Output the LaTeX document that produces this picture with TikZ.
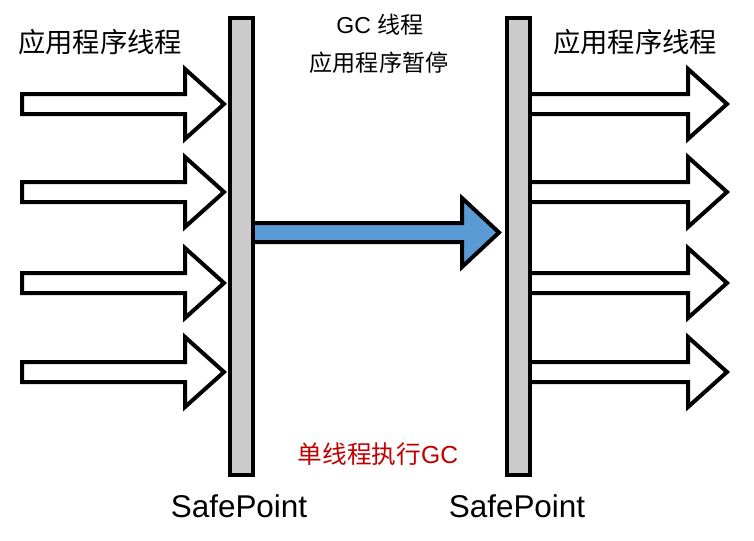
\documentclass[tikz,border=0pt]{standalone}
\usepackage{fontspec}
\setmainfont{Liberation Sans}
\newfontfamily\cjk{Noto Sans CJK SC}
\definecolor{bargray}{HTML}{CCCCCC}
\definecolor{gcblue}{HTML}{5B9BD5}
\definecolor{gcred}{HTML}{C00000}
\newcommand\myLarrow[2]{%
  \draw[thick arr] (22,#1-10) -- (185,#1-10) -- (185,#1-35) -- (224,#1) -- (185,#1+35) -- (185,#1+10) -- (22,#1+10) -- cycle;
  \coordinate (#2) at (224,#1);}
\newcommand\myRarrow[2]{%
  \draw[thick arr] (520,#1-10) -- (688,#1-10) -- (688,#1-35) -- (727,#1) -- (688,#1+35) -- (688,#1+10) -- (520,#1+10) -- cycle;
  \coordinate (#2) at (727,#1);}
\tikzset{
  thick arr/.style={draw=black, fill=white, line width=3pt, miter limit=10},
  barbox/.style={draw=black, fill=bargray, line width=3pt},
  title/.style={font=\fontsize{20.5}{24}\selectfont\cjk, inner sep=0pt},
  mid/.style={font=\fontsize{17.3}{20}\selectfont, inner sep=0pt},
  sp/.style={font=\fontsize{23.6}{27}\selectfont, inner sep=0pt},
}
\begin{document}
\begin{tikzpicture}[x=0.75pt,y=-0.75pt]
\useasboundingbox (0,0) rectangle (754,540);
% left arrows
\myLarrow{104}{la1}
\myLarrow{192}{la2}
\myLarrow{283}{la3}
\myLarrow{372}{la4}
% right arrows
\myRarrow{104}{ra1}
\myRarrow{192}{ra2}
\myRarrow{283}{ra3}
\myRarrow{372}{ra4}
% blue arrow
\draw[line width=3pt, draw=black, fill=gcblue, miter limit=10] (245,223) -- (462,223) -- (462,198) -- (499,232.5) -- (462,267) -- (462,242) -- (245,242) -- cycle;
% bars
\draw[barbox] (230,18) rectangle (253,475);
\draw[barbox] (507,18) rectangle (530,475);
\coordinate (sp1) at (241.5,246);
\coordinate (sp2) at (518.5,246);
% texts
\node[title] (t1) at (100,42) {应用程序线程};
\node[title] (t2) at (635,42) {应用程序线程};
\node[mid] (gc) at (380,25) {GC {\cjk 线程}};
\node[mid] (pause) at (379,63) {\cjk 应用程序暂停};
\node[font=\fontsize{18.5}{22}\selectfont, text=gcred, inner sep=0pt] (single) at (378,454) {{\cjk 单线程执行}GC};
\node[sp] (s1) at (239,506) {SafePoint};
\node[sp] (s2) at (517,506) {SafePoint};
\end{tikzpicture}
\end{document}
